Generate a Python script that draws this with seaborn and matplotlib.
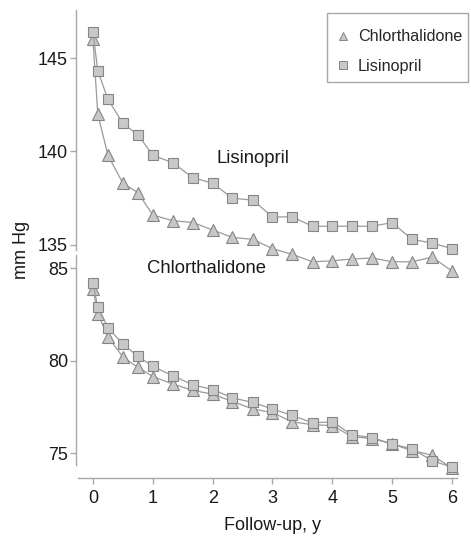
import pandas as pd
import matplotlib
matplotlib.use("Agg")
import matplotlib.pyplot as plt
from matplotlib.lines import Line2D
from matplotlib.patches import Rectangle
import seaborn as sns

# Follow-up visits, years
years = [0, 0.08, 0.25, 0.5, 0.75, 1, 1.33, 1.67, 2, 2.33, 2.67, 3,
         3.33, 3.67, 4, 4.33, 4.67, 5, 5.33, 5.67, 6]

# Systolic BP (top panel)
lis_sbp = [146.4, 144.3, 142.8, 141.5, 140.9, 139.8, 139.4, 138.6, 138.3, 137.5, 137.4,
           136.5, 136.5, 136.0, 136.0, 136.0, 136.0, 136.2, 135.3, 135.1, 134.8]
chl_sbp = [146.0, 142.0, 139.8, 138.3, 137.8, 136.6, 136.3, 136.2, 135.8, 135.4, 135.3,
           134.8, 134.5, 134.1, 134.15, 134.25, 134.3, 134.1, 134.1, 134.35, 133.6]

# Diastolic BP (bottom panel)
lis_dbp = [84.2, 82.9, 81.8, 80.9, 80.25, 79.7, 79.2, 78.7, 78.45, 78.0, 77.75,
           77.4, 77.05, 76.65, 76.7, 76.0, 75.85, 75.5, 75.25, 74.6, 74.25]
chl_dbp = [83.9, 82.55, 81.3, 80.2, 79.65, 79.15, 78.75, 78.4, 78.2, 77.8, 77.4,
           77.2, 76.7, 76.55, 76.5, 75.9, 75.8, 75.5, 75.15, 74.9, 74.2]

drugs = ["Chlorthalidone", "Lisinopril"]
markers = {"Chlorthalidone": "^", "Lisinopril": "s"}
msizes = {"Chlorthalidone": 8.5, "Lisinopril": 7.5}

sbp = pd.DataFrame({"year": years * 2, "mmHg": chl_sbp + lis_sbp,
                    "drug": ["Chlorthalidone"] * len(years) + ["Lisinopril"] * len(years)})
dbp = pd.DataFrame({"year": years * 2, "mmHg": chl_dbp + lis_dbp,
                    "drug": ["Chlorthalidone"] * len(years) + ["Lisinopril"] * len(years)})

sns.set_style("ticks")
plt.rcParams["font.family"] = ["Liberation Sans", "DejaVu Sans"]

line_c = "#9a9a9a"
fill_c = "#c8c8c8"
edge_c = "#858585"
spine_c = "#a8a8a8"
text_c = "#1a1a1a"

W, H = 471, 537
fig = plt.figure(figsize=(W / 100, H / 100), dpi=100)
ax_top = fig.add_axes([76 / W, 1 - 250 / H, 384 / W, 240 / H], facecolor="none")
ax_bot = fig.add_axes([76 / W, 1 - 465 / H, 384 / W, 210 / H], facecolor="none")

for ax, df in [(ax_top, sbp), (ax_bot, dbp)]:
    for d in drugs:
        sub = df[df["drug"] == d]
        sns.lineplot(data=sub, x="year", y="mmHg", ax=ax, color=line_c, lw=0.9,
                     marker=markers[d], ms=msizes[d], mfc=fill_c, mec=edge_c, mew=0.8,
                     clip_on=False, legend=False)

xmin, xmax = -0.284, 6.134
ax_top.set_xlim(xmin, xmax)
ax_bot.set_xlim(xmin, xmax)
ax_top.set_ylim(134.73, 147.57)
ax_bot.set_ylim(74.37, 85.72)

ax_top.set_yticks([135, 140, 145])
ax_bot.set_yticks([75, 80, 85])
ax_bot.set_xticks(range(7))

for ax in (ax_top, ax_bot):
    ax.set_xlabel("")
    ax.set_ylabel("")
    for s in ("top", "right"):
        ax.spines[s].set_visible(False)
    for s in ("left", "bottom"):
        ax.spines[s].set_color(spine_c)
        ax.spines[s].set_linewidth(1.0)
    ax.tick_params(colors=spine_c, labelcolor=text_c, labelsize=13,
                   length=4.3, width=1.0, pad=1.5)

ax_top.spines["bottom"].set_visible(False)
ax_top.tick_params(axis="x", bottom=False, labelbottom=False)
ax_bot.spines["bottom"].set_position(("outward", 9.4))
ax_bot.spines["bottom"].set_bounds(-0.25, 6.08)
ax_bot.tick_params(axis="x", pad=4)

ax_top.text(2.07, 139.65, "Lisinopril", fontsize=13.3, ha="left", va="center", color=text_c)
ax_bot.text(0.90, 85.0, "Chlorthalidone", fontsize=13.3, ha="left", va="center", color=text_c)

fig.text(272 / W, 1 - 525 / H, "Follow-up, y", fontsize=13, ha="center", va="center", color=text_c)
fig.text(21 / W, 1 - 250 / H, "mm Hg", fontsize=13, rotation=90, ha="center", va="center", color=text_c)

# legend entries without frame, plus a box drawn at the reference position
handles = [Line2D([], [], ls="none", marker=markers[d], ms=msizes[d] * 0.75,
                  mfc=fill_c, mec=edge_c, mew=0.7) for d in drugs]
fig.legend(handles, drugs, loc="upper left", bbox_to_anchor=(327 / W, 1 - 16 / H),
           fontsize=11.6, frameon=False, borderpad=0.83,
           labelspacing=0.9, handlelength=0.3, handletextpad=0.78, borderaxespad=0)
fig.patches.append(Rectangle((327 / W, 1 - 82 / H), 141 / W, 69 / H, transform=fig.transFigure,
                             fill=False, edgecolor=spine_c, linewidth=1.0))

fig.savefig("out.png", dpi=100)
